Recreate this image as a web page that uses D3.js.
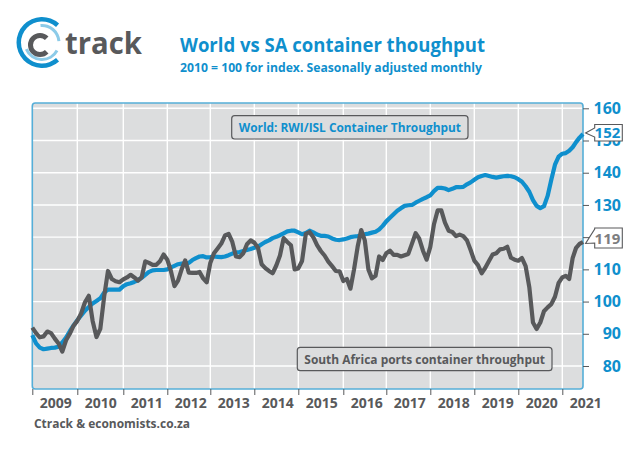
<!DOCTYPE html>
<html lang="en">
<head>
    <meta charset="UTF-8">
    <title>World vs SA container thoughput</title>
    <script src="https://cdn.jsdelivr.net/npm/d3@7"></script>
    <style>
        html, body { margin: 0; padding: 0; background: #fff; }
        svg { display: block; }
        text { font-family: "Open Sans", sans-serif; font-weight: 700; }
    </style>
</head>
<body>
    <svg width="644" height="455"></svg>
    <script>
        // monthly values, Jan 2009 to mid 2021
        var world = [
            89.6, 87, 85.7, 85.2, 85.4, 85.6, 85.7, 86, 87.3, 88.8, 90.8, 92.6,
            94.2, 95.7, 97.2, 98.3, 99.4, 100.2, 101, 102.8, 103.7, 103.7, 103.7, 103.7,
            104.8, 105.4, 105.7, 106.1, 106.6, 107.4, 108.3, 109.2, 109.7, 109.8, 109.8, 109.8,
            110, 110.6, 111.1, 111.6, 111.8, 111.9, 112, 112.9, 113.5, 114, 114.1, 113.7,
            113.8, 114, 113.9, 113.8, 114, 114.4, 114.9, 115.2, 115.4, 115.7, 116, 116.3,
            116.7, 117, 117.8, 118.5, 119, 119.7, 120.1, 120.6, 121.2, 121.8, 122, 122,
            121.5, 120.9, 121.3, 122, 121.5, 120.8, 120.4, 120.4, 120.2, 119.6, 119.2, 119.1,
            119.3, 119.6, 120, 120.2, 120.3, 120.5, 120.9, 121.1, 121.4, 121.7, 122.4, 123.5,
            124.9, 126, 127.1, 128.2, 129, 129.7, 129.9, 130, 130.7, 131.3, 131.9, 132.4,
            133, 134.3, 135.3, 135.3, 135.1, 134.6, 135, 135.5, 135.5, 135.6, 136.4, 137,
            137.8, 138.6, 139, 139.3, 139, 138.7, 138.5, 138.7, 138.9, 139, 138.9, 138.6,
            138, 137.2, 135.8, 134.1, 131.5, 129.7, 129, 129.6, 132.8, 137.8, 142.5, 145,
            145.9, 146.1, 146.8, 147.9, 149.5, 150.9, 152
        ];
        var southAfrica = [
            91.9, 90.2, 88.9, 89.2, 90.7, 90.2, 88.5, 87, 84.5, 88, 90, 92.5,
            94, 96.3, 99.8, 101.8, 94, 89, 91.5, 101.5, 109.5, 107, 106.3, 106,
            106.9, 107.5, 108.3, 107.5, 106.5, 107.5, 112.5, 112, 111.4, 111.4, 112.5, 114.6,
            113, 109.5, 104.8, 106.5, 110, 112.8, 109, 108.9, 108.9, 109.2, 107.2, 106,
            112, 115, 116.5, 118, 120.5, 121, 118.5, 114, 113.8, 115, 117.8, 119,
            118.3, 116.7, 111.6, 110.4, 109.5, 108.8, 111.2, 114.3, 119.7, 118.5, 117.5, 110,
            110.3, 112.6, 121, 121.6, 120, 117.5, 115.7, 114.3, 112.4, 111, 109.5, 109.4,
            106.4, 107, 104, 110, 117, 122.2, 119, 110, 107.2, 108, 114, 112.9,
            115, 115.8, 114.5, 114.5, 114, 114.4, 114.8, 118, 121.2, 119.5, 115.8, 113,
            117, 124, 128.3, 128.3, 124.5, 122, 121.6, 120.3, 120.8, 120.3, 119, 116,
            112.7, 111.3, 108.8, 110.5, 112.6, 114.6, 115, 116.2, 116.4, 117, 113.6, 113,
            112.7, 113.5, 111, 104.5, 93.5, 91.5, 93.5, 97, 98.2, 99.2, 101.5, 105.8,
            107.5, 108, 107, 113.5, 116.7, 117.9, 118.5
        ];
        var yearTicks = [2009, 2010, 2011, 2012, 2013, 2014, 2015, 2016, 2017, 2018, 2019, 2020, 2021];
        var valueTicks = [80, 90, 100, 110, 120, 130, 140, 150, 160];

        var blue = "#0f8fcd", grey = "#58595b";
        var svg = d3.select("svg");
        var plotLeft = 32.3, plotRight = 583, plotTop = 103, plotBottom = 389;

        // the year ticks in the original are not quite evenly spaced
        var xScale = d3.scaleLinear()
            .domain(yearTicks.concat([2021.5]))
            .range([plotLeft, 77.3, 123.3, 167.3, 210.3, 254.3, 298.3, 343.3, 386.3, 430.3, 474.3, 518.3, 562.3, plotRight]);
        var yScale = d3.scaleLinear().domain([80, 160]).range([366, 108.3]);

        function monthX(d, i) {
            return xScale(2009 + i / 12);
        }

        svg.append("rect")
            .attr("x", plotLeft).attr("y", plotTop)
            .attr("width", plotRight - plotLeft).attr("height", plotBottom - plotTop)
            .attr("rx", 3)
            .attr("fill", "#dcddde");

        // grid
        var grid = svg.append("g").attr("stroke", "#fff").attr("stroke-width", 1.4);
        grid.selectAll(".h").data(valueTicks).enter().append("line")
            .attr("x1", plotLeft).attr("x2", plotRight)
            .attr("y1", function(d) { return yScale(d); })
            .attr("y2", function(d) { return yScale(d); });
        grid.selectAll(".v").data(yearTicks.slice(1)).enter().append("line")
            .attr("y1", plotTop).attr("y2", plotBottom)
            .attr("x1", function(d) { return xScale(d); })
            .attr("x2", function(d) { return xScale(d); });

        svg.append("rect")
            .attr("x", plotLeft).attr("y", plotTop)
            .attr("width", plotRight - plotLeft).attr("height", plotBottom - plotTop)
            .attr("rx", 3)
            .attr("fill", "none")
            .attr("stroke", "#55aed8")
            .attr("stroke-width", 1.6);

        // axes
        var yAxis = svg.append("g")
            .attr("transform", "translate(" + plotRight + ",0)")
            .call(d3.axisRight(yScale).tickValues(valueTicks).tickSize(6));
        yAxis.select(".domain").remove();
        yAxis.selectAll("line").attr("stroke", grey);
        yAxis.selectAll("text")
            .attr("fill", blue)
            .attr("font-size", 16)
            .attr("text-anchor", "end")
            .attr("x", 38);

        var xAxis = svg.append("g")
            .attr("transform", "translate(0," + plotBottom + ")")
            .call(d3.axisBottom(xScale).tickValues(yearTicks).tickFormat(d3.format("d")).tickSize(6));
        xAxis.select(".domain").remove();
        xAxis.selectAll("line").attr("stroke", grey);
        xAxis.selectAll("text")
            .attr("fill", grey)
            .attr("font-size", 14)
            .attr("dx", 23)
            .attr("y", 9);

        // lines
        var line = d3.line().x(monthX).y(function(d) { return yScale(d); });
        svg.append("path").datum(world)
            .attr("d", line)
            .attr("fill", "none").attr("stroke", blue)
            .attr("stroke-width", 4.2).attr("stroke-linejoin", "round");
        svg.append("path").datum(southAfrica)
            .attr("d", line)
            .attr("fill", "none").attr("stroke", grey)
            .attr("stroke-width", 4.2).attr("stroke-linejoin", "round");

        // series name boxes
        function nameBox(x, y, w, h, label, colour) {
            svg.append("rect")
                .attr("x", x).attr("y", y).attr("width", w).attr("height", h).attr("rx", 3)
                .attr("fill", "#dcddde").attr("stroke", grey).attr("stroke-width", 1.2);
            svg.append("text")
                .attr("x", x + w / 2).attr("y", y + h / 2 + 4.5)
                .attr("text-anchor", "middle")
                .attr("font-size", 13)
                .attr("fill", colour)
                .attr("textLength", w - 14)
                .attr("lengthAdjust", "spacingAndGlyphs")
                .text(label);
        }
        nameBox(231.7, 115.7, 236.3, 23.3, "World: RWI/ISL Container Throughput", blue);
        nameBox(297.3, 347.3, 254.7, 23.4, "South Africa ports container throughput", grey);

        // last value callouts
        function callout(boxTop, h, joinTop, joinBottom, tipY, label, colour) {
            var x0 = 594.7, x1 = 622.3;
            var pts = [[x0, boxTop], [x1, boxTop], [x1, boxTop + h], [x0, boxTop + h], [x0, joinBottom], [585.6, tipY], [x0, joinTop]];
            svg.append("path")
                .attr("d", d3.line()(pts) + "Z")
                .attr("fill", "#fff").attr("stroke", grey).attr("stroke-width", 1.1);
            svg.append("text")
                .attr("x", x1 - 2).attr("y", boxTop + h / 2 + 5.5)
                .attr("text-anchor", "end")
                .attr("font-size", 15)
                .attr("fill", colour)
                .text(label);
        }
        callout(124.5, 16.5, 128, 137, 133, world[world.length - 1].toFixed(0), blue);
        callout(228, 20, 229, 243, 243.5, southAfrica[southAfrica.length - 1].toFixed(0), "#7d7e80");

        // titles
        svg.append("text").attr("x", 180).attr("y", 52)
            .attr("font-size", 20).attr("fill", blue)
            .attr("textLength", 305).attr("lengthAdjust", "spacingAndGlyphs")
            .text("World vs SA container thoughput");
        svg.append("text").attr("x", 180).attr("y", 72)
            .attr("font-size", 12).attr("fill", blue)
            .attr("textLength", 302).attr("lengthAdjust", "spacingAndGlyphs")
            .text("2010 = 100 for index. Seasonally adjusted monthly");
        svg.append("text").attr("x", 34).attr("y", 428)
            .attr("font-size", 13).attr("fill", grey)
            .attr("textLength", 156).attr("lengthAdjust", "spacingAndGlyphs")
            .text("Ctrack & economists.co.za");

        // logo
        function deg(a) { return a * Math.PI / 180; }
        var arc = d3.arc();
        var logo = svg.append("g").attr("transform", "translate(42,42.5)");
        logo.append("path")
            .attr("d", arc({innerRadius: 21, outerRadius: 25.5, startAngle: deg(138), endAngle: deg(402)}))
            .attr("fill", blue);
        logo.append("path")
            .attr("d", arc({innerRadius: 15.5, outerRadius: 18.5, startAngle: deg(-5), endAngle: deg(85)}))
            .attr("fill", "#8ccbe8");
        logo.append("path")
            .attr("d", arc({innerRadius: 15.5, outerRadius: 18.5, startAngle: deg(118), endAngle: deg(247)}))
            .attr("fill", "#8ccbe8");
        svg.append("path")
            .attr("transform", "translate(40,45)")
            .attr("d", arc({innerRadius: 7, outerRadius: 12, startAngle: deg(135), endAngle: deg(405)}))
            .attr("fill", grey);
        svg.append("text").attr("x", 65).attr("y", 54)
            .attr("font-size", 31).attr("fill", grey)
            .attr("textLength", 77).attr("lengthAdjust", "spacingAndGlyphs")
            .text("track");
    </script>
</body>
</html>
